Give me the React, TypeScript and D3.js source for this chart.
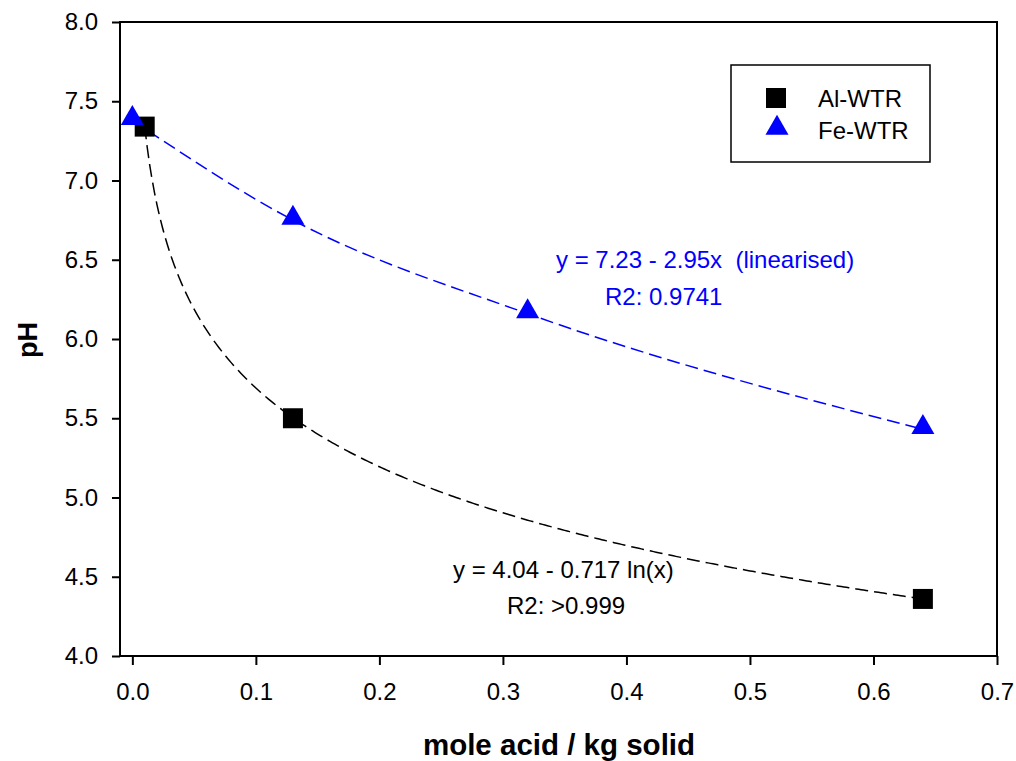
import React, { useEffect, useRef } from 'react';
import * as d3 from 'd3';

// Al-WTR measurements
const alX = [0.01, 0.13, 0.64];
const alY = [7.34, 5.5, 4.36];
// Fe-WTR measurements
const feX = [0.0, 0.13, 0.32, 0.64];
const feY = [7.38, 6.75, 6.16, 5.43];

const xTicks = [0, 0.1, 0.2, 0.3, 0.4, 0.5, 0.6, 0.7];
const xTickLabels = ['0.0', '0.1', '0.2', '0.3', '0.4', '0.5', '0.6', '0.7'];
const yTicks = [4.0, 4.5, 5.0, 5.5, 6.0, 6.5, 7.0, 7.5, 8.0];

// fitted Al-WTR curve: y = 4.04 - 0.717 ln(x)
const alFit = { a: 4.04, b: 0.717 };

export default function App() {
  const ref = useRef<SVGSVGElement>(null);

  useEffect(() => {
    const svg = d3.select(ref.current);
    svg.selectAll('*').remove();

    const left = 120, right = 997, top = 22, bottom = 656;
    const font = 'Liberation Sans, Arial, sans-serif';

    const x = d3.scaleLinear().domain([-0.01, 0.7]).range([left, right]);
    const y = d3.scaleLinear().domain([4, 8]).range([bottom, top]);

    svg.append('rect').attr('width', 1016).attr('height', 761).attr('fill', 'white');

    // frame
    svg.append('rect')
      .attr('x', left).attr('y', top)
      .attr('width', right - left).attr('height', bottom - top)
      .attr('fill', 'none').attr('stroke', 'black').attr('stroke-width', 2);

    // y axis
    const ya = svg.append('g').attr('transform', `translate(${left},0)`)
      .call(d3.axisLeft(y).tickValues(yTicks).tickFormat(d3.format('.1f')).tickSize(8).tickPadding(14));
    ya.select('.domain').remove();
    ya.selectAll('line').attr('stroke-width', 2);
    ya.selectAll('text').attr('font-family', font).attr('font-size', 24).attr('fill', 'black');

    // x axis
    const xa = svg.append('g').attr('transform', `translate(0,${bottom})`)
      .call(d3.axisBottom(x).tickValues(xTicks).tickFormat((d, i) => xTickLabels[i]).tickSize(9).tickPadding(18));
    xa.select('.domain').remove();
    xa.selectAll('line').attr('stroke-width', 2);
    xa.selectAll('text').attr('font-family', font).attr('font-size', 24).attr('fill', 'black');

    // axis titles
    svg.append('text')
      .attr('x', 559).attr('y', 755)
      .attr('text-anchor', 'middle')
      .attr('font-family', font).attr('font-size', 29.5).attr('font-weight', 'bold')
      .text('mole acid / kg solid');
    svg.append('text')
      .attr('transform', 'translate(37,340) rotate(-90)')
      .attr('text-anchor', 'middle')
      .attr('font-family', font).attr('font-size', 27).attr('font-weight', 'bold')
      .text('pH');

    // Al fit curve
    const xs = d3.range(0.01, 0.6401, 0.002);
    const alLine = d3.line<number>()
      .x(d => x(d))
      .y(d => y(alFit.a - alFit.b * Math.log(d)));
    svg.append('path')
      .attr('d', alLine(xs))
      .attr('fill', 'none').attr('stroke', 'black').attr('stroke-width', 1.5)
      .attr('stroke-dasharray', '13,6');

    // Fe curve through points
    const feLine = d3.line<number>()
      .x((d, i) => x(feX[i]))
      .y(d => y(d))
      .curve(d3.curveMonotoneX);
    svg.append('path')
      .attr('d', feLine(feY))
      .attr('fill', 'none').attr('stroke', 'blue').attr('stroke-width', 1.5)
      .attr('stroke-dasharray', '13,6');

    const sq = d3.symbol().type(d3.symbolSquare).size(400);
    const tri = d3.symbol().type(d3.symbolTriangle).size(230);

    svg.selectAll('.al').data(alY).enter().append('path')
      .attr('d', sq)
      .attr('transform', (d, i) => `translate(${x(alX[i])},${y(d)})`)
      .attr('fill', 'black');

    svg.selectAll('.fe').data(feY).enter().append('path')
      .attr('d', tri)
      .attr('transform', (d, i) => `translate(${x(feX[i])},${y(d) - 2})`)
      .attr('fill', 'blue');

    // legend
    svg.append('rect')
      .attr('x', 731).attr('y', 65).attr('width', 199).attr('height', 97)
      .attr('fill', 'white').attr('stroke', 'black').attr('stroke-width', 1.5);
    svg.append('path').attr('d', sq).attr('transform', 'translate(776,98)').attr('fill', 'black');
    svg.append('path').attr('d', tri).attr('transform', 'translate(777,128)').attr('fill', 'blue');
    svg.append('text').attr('x', 818).attr('y', 107)
      .attr('font-family', font).attr('font-size', 24).text('Al-WTR');
    svg.append('text').attr('x', 818).attr('y', 139)
      .attr('font-family', font).attr('font-size', 24).text('Fe-WTR');

    // annotations
    svg.append('text').attr('x', 556).attr('y', 268)
      .attr('font-family', font).attr('font-size', 24).attr('fill', 'blue')
      .style('white-space', 'pre')
      .text('y = 7.23 - 2.95x  (linearised)');
    svg.append('text').attr('x', 605).attr('y', 305)
      .attr('font-family', font).attr('font-size', 24).attr('fill', 'blue')
      .text('R2: 0.9741');
    svg.append('text').attr('x', 453).attr('y', 578)
      .attr('font-family', font).attr('font-size', 24).attr('fill', 'black')
      .text('y = 4.04 - 0.717 ln(x)');
    svg.append('text').attr('x', 507).attr('y', 614)
      .attr('font-family', font).attr('font-size', 24).attr('fill', 'black')
      .text('R2: >0.999');
  }, []);

  return (
    <svg ref={ref} width={1016} height={761}
      style={{ position: 'absolute', left: 0, top: 0, display: 'block' }} />
  );
}
